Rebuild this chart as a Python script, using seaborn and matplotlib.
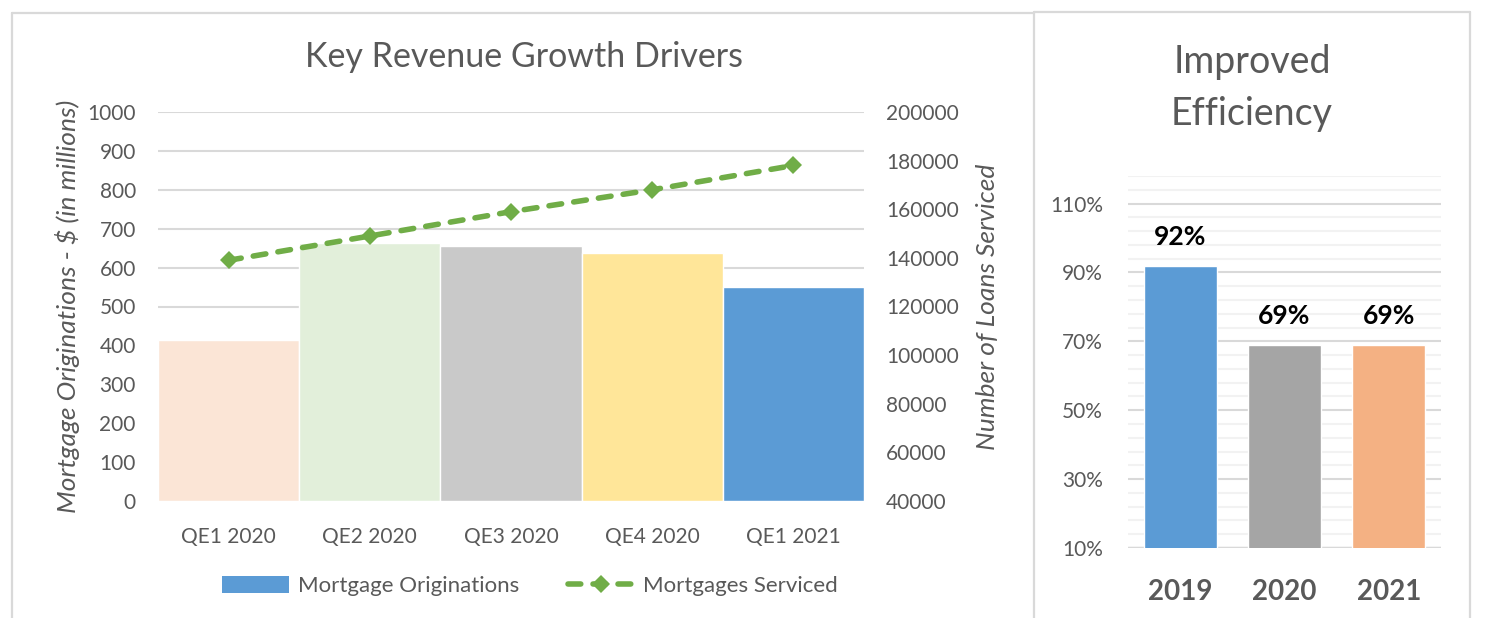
import matplotlib
matplotlib.use("Agg")
import matplotlib.pyplot as plt
import seaborn as sns
import numpy as np
import pandas as pd
from matplotlib.patches import Patch
from matplotlib.lines import Line2D
from matplotlib.ticker import MultipleLocator, FuncFormatter

# ---------------- data ----------------
quarters = ["QE1 2020", "QE2 2020", "QE3 2020", "QE4 2020", "QE1 2021"]
originations = [414, 663, 656, 638, 550]
serviced = [139000, 149000, 159000, 168000, 178000]
bar_colors = ["#FBE5D6", "#E2EFDA", "#C9C9C9", "#FFE699", "#5B9BD5"]

years = ["2019", "2020", "2021"]
efficiency = [92, 69, 69]
eff_colors = ["#5B9BD5", "#A5A5A5", "#F4B183"]

GREEN = "#70AD47"
TXT = "#595959"
GRID = "#D9D9D9"

sns.set_theme(style="white")
plt.rcParams['font.family'] = ['Lato', 'DejaVu Sans']

W, H = 1496, 618
fig = plt.figure(figsize=(W / 100, H / 100), dpi=100)


def fx(px):
    return px / W


def fy(py):
    return 1 - py / H


DASH = (0, (2.3, 2.2))

# ---------------- left panel ----------------
ax = fig.add_axes([fx(158), fy(501), fx(864 - 158), (501 - 112) / H])
df = pd.DataFrame({"q": quarters, "v": originations})
sns.barplot(data=df, x="q", y="v", hue="q", palette=bar_colors, width=1.0,
            saturation=1, legend=False, ax=ax, zorder=2)
ax.set_xlim(-0.5, len(quarters) - 0.5)
ax.set_ylim(0, 1000)
ax.yaxis.set_major_locator(MultipleLocator(100))
ax.grid(axis='y', color=GRID, lw=1.5, zorder=0)
ax.set_axisbelow(True)
for s in ax.spines.values():
    s.set_visible(False)
ax.axhline(0, color=GRID, lw=2.5, zorder=1)
ax.tick_params(axis='both', length=0, labelsize=15, labelcolor=TXT)
ax.tick_params(axis='y', pad=16)
ax.tick_params(axis='x', pad=19)
ax.set_xlabel("")
ax.set_ylabel("Mortgage Originations - $ (in millions)", fontsize=19,
              style='italic', color=TXT, labelpad=5)

ax2 = ax.twinx()
xpos = np.arange(len(quarters))
sns.lineplot(x=xpos, y=serviced, ax=ax2, color=GREEN, lw=4,
             linestyle=DASH, marker='D', markersize=9,
             markeredgewidth=0, dash_capstyle='round', zorder=5)
ax2.set_ylim(40000, 200000)
ax2.yaxis.set_major_locator(MultipleLocator(20000))
for s in ax2.spines.values():
    s.set_visible(False)
ax2.tick_params(axis='y', length=0, labelsize=15, labelcolor=TXT, pad=16)
ax2.set_ylabel("Number of Loans Serviced", fontsize=19, style='italic',
               color=TXT, labelpad=12)
ax2.grid(False)

fig.text(fx(524), fy(57), "Key Revenue Growth Drivers", ha='center',
         va='center', fontsize=24.5, color=TXT)

handles = [Patch(facecolor="#5B9BD5", edgecolor='none'),
           Line2D([0], [0], color=GREEN, lw=4, linestyle=DASH,
                  marker='D', markersize=9, markeredgewidth=0,
                  dash_capstyle='round')]
fig.legend(handles, ["Mortgage Originations", "Mortgages Serviced"],
           loc='center', bbox_to_anchor=(fx(530), fy(586)), ncol=2,
           frameon=False, handlelength=3.0, handleheight=0.85,
           handletextpad=0.4, columnspacing=2.2,
           prop={'size': 16}, labelcolor=TXT)

# ---------------- right panel ----------------
bx = fig.add_axes([fx(1128), fy(548), fx(1441 - 1128), (548 - 176) / H])
de = pd.DataFrame({"y": years, "v": efficiency})
sns.barplot(data=de, x="y", y="v", hue="y", palette=eff_colors, width=0.7,
            saturation=1, legend=False, ax=bx, zorder=2)
bx.set_ylim(10, 118)
bx.set_xlim(-0.5, len(years) - 0.5)
bx.yaxis.set_major_locator(MultipleLocator(20, offset=10))
bx.yaxis.set_minor_locator(MultipleLocator(4, offset=2))
bx.yaxis.set_major_formatter(FuncFormatter(lambda v, p: f"{v:.0f}%"))
bx.grid(axis='y', which='major', color=GRID, lw=1.5, zorder=0)
bx.grid(axis='y', which='minor', color="#F2F2F2", lw=1.5, zorder=0)
bx.set_axisbelow(True)
for s in bx.spines.values():
    s.set_visible(False)
bx.axhline(10, color=GRID, lw=2.5, zorder=1)
bx.tick_params(axis='y', which='both', length=0, labelsize=15,
               labelcolor=TXT, pad=18)
bx.tick_params(axis='x', length=0, labelsize=20, labelcolor=TXT, pad=22)
for t in bx.get_xticklabels():
    t.set_fontweight('bold')
bx.set_xlabel("")
bx.set_ylabel("")
for cont, v in zip(bx.containers, efficiency):
    bx.bar_label(cont, labels=[f"{v}%"], padding=12, fontsize=19,
                 fontweight='bold', color='black')

fig.text(fx(1252), fy(88), "Improved\nEfficiency", ha='center', va='center',
         fontsize=27, color=TXT, linespacing=1.55)

# ---------------- panel borders ----------------
bc = dict(color=GRID, lw=1.6, transform=fig.transFigure, clip_on=False)
fig.add_artist(Line2D([fx(12), fx(12)], [fy(13), 0], **bc))
fig.add_artist(Line2D([fx(12), fx(1034)], [fy(13), fy(13)], **bc))
fig.add_artist(Line2D([fx(1034), fx(1034)], [fy(12), 0], **bc))
fig.add_artist(Line2D([fx(1034), fx(1470)], [fy(12), fy(12)], **bc))
fig.add_artist(Line2D([fx(1470), fx(1470)], [fy(12), 0], **bc))

fig.savefig("out.png", dpi=100, facecolor='white')
